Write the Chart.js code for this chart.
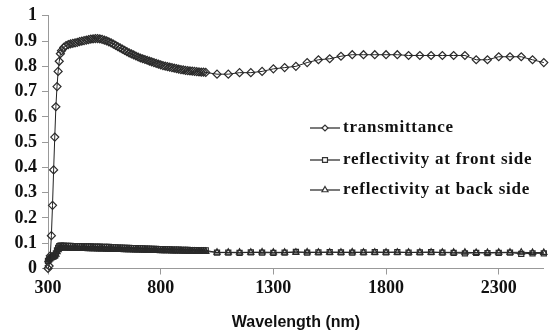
<!DOCTYPE html>
<html>
<head>
<meta charset="utf-8">
<script src="https://cdn.jsdelivr.net/npm/chart.js@4.4.0/dist/chart.umd.min.js"></script>
<style>
html,body{margin:0;padding:0;background:#fff;}
#wrap{width:549px;height:334px;position:relative;}
</style>
</head>
<body>
<div id="wrap"><canvas id="c" width="549" height="334"></canvas></div>
<script>
// Wavelengths (nm)
const wavelengths = [300,305,310,315,320,325,330,335,340,345,350,355,360,370,380,390,400,410,420,430,440,450,460,470,480,490,500,510,520,530,540,550,560,570,580,590,600,610,620,630,640,650,660,670,680,690,700,710,720,730,740,750,760,770,780,790,800,810,820,830,840,850,860,870,880,890,900,910,920,930,940,950,960,970,980,990,1000,
1050,1100,1150,1200,1250,1300,1350,1400,1450,1500,1550,1600,1650,1700,1750,1800,1850,1900,1950,2000,2050,2100,2150,2200,2250,2300,2350,2400,2450,2500];

const transmittance = [0.00,0.01,0.05,0.13,0.25,0.39,0.52,0.64,0.72,0.78,0.82,0.85,0.862,0.875,0.882,0.886,0.889,0.891,0.893,0.895,0.898,0.900,0.902,0.904,0.906,0.908,0.909,0.910,0.910,0.909,0.907,0.904,0.901,0.897,0.893,0.888,0.883,0.878,0.873,0.868,0.863,0.858,0.853,0.849,0.845,0.841,0.837,0.833,0.830,0.827,0.824,0.821,0.818,0.815,0.812,0.809,0.806,0.803,0.801,0.799,0.797,0.795,0.793,0.791,0.789,0.787,0.786,0.784,0.783,0.782,0.781,0.780,0.779,0.778,0.777,0.777,0.776,
0.769,0.769,0.775,0.775,0.780,0.790,0.795,0.800,0.815,0.826,0.830,0.840,0.846,0.846,0.846,0.846,0.846,0.843,0.843,0.843,0.843,0.843,0.843,0.826,0.826,0.838,0.838,0.838,0.826,0.815];

const reflFront = [0.030,0.035,0.040,0.044,0.046,0.048,0.052,0.060,0.072,0.082,0.088,0.090,0.090,0.090,0.089,0.089,0.089,0.088,0.088,0.088,0.088,0.087,0.087,0.087,0.087,0.087,0.086,0.086,0.086,0.086,0.085,0.085,0.085,0.085,0.084,0.084,0.084,0.083,0.083,0.083,0.082,0.082,0.082,0.081,0.081,0.081,0.080,0.080,0.080,0.079,0.079,0.079,0.078,0.078,0.078,0.077,0.077,0.077,0.076,0.076,0.076,0.075,0.075,0.075,0.075,0.074,0.074,0.074,0.074,0.073,0.073,0.073,0.073,0.072,0.072,0.072,0.072,
0.063,0.063,0.062,0.064,0.063,0.062,0.063,0.066,0.063,0.064,0.065,0.064,0.063,0.064,0.065,0.064,0.065,0.063,0.064,0.065,0.063,0.062,0.060,0.062,0.061,0.062,0.063,0.058,0.060,0.060];

const reflBack = [0.034,0.038,0.042,0.045,0.046,0.047,0.050,0.056,0.066,0.074,0.079,0.081,0.081,0.081,0.081,0.080,0.080,0.080,0.080,0.080,0.079,0.079,0.079,0.079,0.078,0.078,0.078,0.078,0.077,0.077,0.077,0.077,0.076,0.076,0.076,0.076,0.075,0.075,0.075,0.075,0.074,0.074,0.074,0.074,0.073,0.073,0.073,0.073,0.072,0.072,0.072,0.072,0.071,0.071,0.071,0.071,0.070,0.070,0.070,0.070,0.070,0.069,0.069,0.069,0.069,0.069,0.068,0.068,0.068,0.068,0.068,0.068,0.067,0.067,0.067,0.067,0.067,
0.064,0.064,0.064,0.064,0.065,0.064,0.064,0.064,0.065,0.064,0.064,0.064,0.065,0.064,0.064,0.064,0.064,0.064,0.064,0.064,0.064,0.064,0.064,0.063,0.063,0.064,0.064,0.064,0.063,0.063];

const xTicks = [300,800,1300,1800,2300];
const seriesNames = ['transmittance','reflectivity at front side','reflectivity at back side'];

const toXY = arr => arr.map((v,i)=>({x:wavelengths[i], y:v}));

const serif = '"Liberation Serif","Times New Roman",serif';
const sans = '"Liberation Sans",Arial,sans-serif';

const legendPlugin = {
  id:'customLegend',
  afterDraw(chart){
    const ctx = chart.ctx;
    const styles = ['rectRot','rect','triangle'];
    const rows = [128,160,190];
    ctx.save();
    for(let i=0;i<3;i++){
      const y = rows[i];
      ctx.strokeStyle = '#222';
      ctx.lineWidth = 1.2;
      ctx.beginPath(); ctx.moveTo(310,y); ctx.lineTo(340,y); ctx.stroke();
      ctx.fillStyle = '#ffffff';
      ctx.strokeStyle = '#333';
      Chart.helpers.drawPoint(ctx,{pointStyle:styles[i], radius: i===0?3:3.5, borderWidth:1}, 325, y);
      ctx.fillStyle = '#111';
      ctx.font = 'bold 17px ' + serif;
      ctx.letterSpacing = '0.75px';
      ctx.textBaseline = 'middle';
      ctx.textAlign = 'left';
      ctx.fillText(seriesNames[i], 343, y);
      ctx.letterSpacing = '0px';
    }
    ctx.restore();
  }
};

const common = {borderColor:'#222', borderWidth:1, pointBorderColor:'#2a2a2a', pointBackgroundColor:'rgba(255,255,255,0)', pointBorderWidth:1.2, tension:0, clip:false};

new Chart(document.getElementById('c'), {
  type:'line',
  data:{
    datasets:[
      Object.assign({label:seriesNames[0], data:toXY(transmittance), pointStyle:'rectRot', pointRadius:4}, common),
      Object.assign({label:seriesNames[1], data:toXY(reflFront), pointStyle:'rect', pointRadius:3.6}, common),
      Object.assign({label:seriesNames[2], data:toXY(reflBack), pointStyle:'triangle', pointRadius:3.6}, common)
    ]
  },
  options:{
    responsive:false,
    animation:false,
    layout:{padding:{top:15,right:3,left:0,bottom:0}},
    plugins:{legend:{display:false}, tooltip:{enabled:false}},
    scales:{
      x:{
        type:'linear', min:300, max:2500,
        afterBuildTicks(s){ s.ticks = xTicks.map(v=>({value:v})); },
        afterFit(s){ s.height = 65.5; },
        grid:{drawOnChartArea:false, color:'#999', tickLength:6, tickColor:'#999'},
        border:{color:'#999', width:1},
        ticks:{color:'#111', font:{family:serif, size:18, weight:'bold'}, padding:3, maxRotation:0, callback:v=>String(v)},
        title:{display:true, text:'Wavelength (nm)', color:'#111', font:{family:sans, size:16, weight:'bold'}, padding:{top:0,bottom:2}}
      },
      y:{
        min:0, max:1,
        ticks:{stepSize:0.1, color:'#111', font:{family:serif, size:18, weight:'bold'}, padding:5, callback:v=>String(Math.round(v*10)/10)},
        afterFit(s){ s.width = 48; },
        grid:{drawOnChartArea:false, color:'#999', tickLength:6, tickColor:'#999'},
        border:{color:'#999', width:1}
      }
    }
  },
  plugins:[legendPlugin]
});
</script>
</body>
</html>
